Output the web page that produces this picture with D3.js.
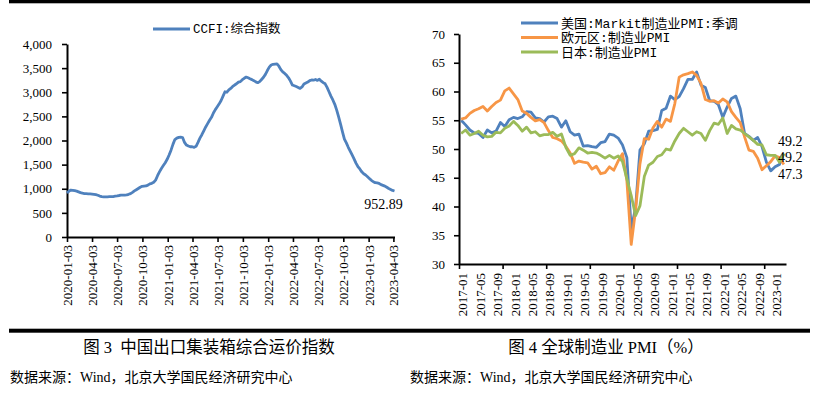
<!DOCTYPE html>
<html>
<head>
<meta charset="utf-8">
<script src="https://cdn.jsdelivr.net/npm/d3@7"></script>
<style>
body { margin: 0; background: #fff; }
svg { display: block; }
</style>
</head>
<body>
<svg id="page" width="817" height="395"></svg>
<script>
// ---- CCFI (weekly, first week 2020-01-03) ----
var ccfiStart = "2020-01-03";
var ccfiValues = [
  910, 950, 972, 968, 960, 950, 935, 920, 908, 900, 898, 895, 893,
  890, 885, 878, 866, 848, 836, 832, 833, 832, 835, 836, 838, 845,
  852, 860, 866, 866, 868, 872, 885, 900, 925, 955, 980, 1005, 1030,
  1050, 1055, 1058, 1075, 1100, 1113, 1135, 1180, 1270, 1350, 1420, 1480, 1540,
  1610, 1700, 1800, 1920, 2020, 2050, 2065, 2068, 2060, 1960, 1905, 1885, 1870,
  1870, 1858, 1880, 1960, 2050, 2120, 2200, 2280, 2350, 2420, 2480, 2570, 2640,
  2700, 2760, 2830, 2920, 3010, 3000, 3050, 3080, 3120, 3150, 3175, 3210, 3220,
  3260, 3290, 3315, 3300, 3280, 3262, 3240, 3215, 3198, 3220, 3265, 3310, 3370,
  3450, 3520, 3565, 3580, 3585, 3587, 3540, 3470, 3420, 3390, 3350, 3300, 3230,
  3150, 3135, 3120, 3100, 3080, 3110, 3170, 3190, 3210, 3240, 3255, 3250, 3265,
  3245, 3270, 3230, 3200, 3175, 3100, 3010, 2920, 2840, 2750, 2630, 2490, 2340,
  2180, 2030, 1950, 1860, 1780, 1700, 1620, 1530, 1460, 1410, 1350, 1310, 1285,
  1250, 1210, 1175, 1145, 1125, 1120, 1110, 1085, 1070, 1055, 1030, 1005, 985,
  965, 952.89
];
var ccfiTicks = ["2020-01-03","2020-04-03","2020-07-03","2020-10-03","2021-01-03","2021-04-03","2021-07-03",
                 "2021-10-03","2022-01-03","2022-04-03","2022-07-03","2022-10-03","2023-01-03","2023-04-03"];
var ccfiYTicks = [0, 500, 1000, 1500, 2000, 2500, 3000, 3500, 4000];
var ccfiName = "CCFI:综合指数";

// ---- PMI (monthly, 2017-01 .. 2023-03) ----
var pmiUS = [
  55.0,54.2,53.3,52.8,52.7,52.0,53.3,52.8,53.1,54.6,53.9,55.1,
  55.5,55.3,55.6,56.5,56.4,55.4,55.3,54.7,55.6,55.7,55.3,53.8,
  54.9,53.0,52.4,52.6,50.5,50.6,50.4,50.3,51.1,51.3,52.6,52.4,
  51.9,50.7,48.5,36.1,39.8,49.8,50.9,53.1,53.2,53.4,56.7,57.1,
  59.2,58.6,59.1,60.5,62.1,62.1,63.4,61.1,60.7,58.4,58.3,57.7,
  55.5,57.3,58.8,59.2,57.0,52.7,52.2,51.5,52.0,50.4,47.7,46.2,
  46.9,47.3,49.2
];
var pmiEU = [
  55.2,55.4,56.2,56.7,57.0,57.4,56.6,57.4,58.1,58.5,60.1,60.6,
  59.6,58.6,56.6,56.2,55.5,54.9,55.1,54.6,53.2,52.0,51.8,51.4,
  50.5,49.3,47.5,47.9,47.7,47.6,46.5,47.0,45.7,45.9,46.9,46.3,
  47.9,49.2,44.5,33.4,39.4,47.4,51.8,51.7,53.7,54.8,53.8,55.2,
  54.8,57.9,62.5,62.9,63.1,63.4,62.8,61.4,58.6,58.3,58.4,58.0,
  58.7,58.2,56.5,55.5,54.6,52.1,49.8,49.6,48.4,46.4,47.1,47.8,
  48.8,48.5,47.3
];
var pmiJP = [
  52.7,53.3,52.4,52.7,53.1,52.4,52.1,52.2,52.9,52.8,53.6,54.0,
  54.8,54.1,53.1,53.8,52.8,53.0,52.3,52.5,52.5,52.9,52.2,52.6,
  50.3,48.9,49.2,50.2,49.8,49.3,49.4,49.3,48.9,48.4,48.9,48.4,
  48.8,47.8,44.8,41.9,38.4,40.1,45.2,47.2,47.7,48.7,49.0,50.0,
  49.8,51.4,52.7,53.6,53.0,52.4,53.0,52.7,51.5,53.2,54.5,54.3,
  55.4,52.7,54.1,53.5,53.3,52.7,52.1,51.5,50.8,50.7,49.0,48.9,
  48.9,47.7,49.2
];
var pmiNames = ["美国:Markit制造业PMI:季调", "欧元区:制造业PMI", "日本:制造业PMI"];
var pmiColors = ["#4f81bd", "#f79646", "#9bbb59"];
var pmiLabels = ["2017-01","2017-05","2017-09","2018-01","2018-05","2018-09","2019-01","2019-05","2019-09",
                 "2020-01","2020-05","2020-09","2021-01","2021-05","2021-09","2022-01","2022-05","2022-09","2023-01"];
var pmiYTicks = [30, 35, 40, 45, 50, 55, 60, 65, 70];

var captions = ["图 3  中国出口集装箱综合运价指数", "图 4 全球制造业 PMI（%）"];
var source = "数据来源：Wind，北京大学国民经济研究中心";

var serif = '"Liberation Serif", "Noto Sans CJK SC", serif';
var mono = '"Liberation Mono", "Noto Sans CJK SC", monospace';

var svg = d3.select("#page");
var parse = d3.timeParse("%Y-%m-%d");

// frame bars
svg.append("rect").attr("x", 9).attr("y", 0).attr("width", 801).attr("height", 3.3).attr("fill", "#000");
svg.append("rect").attr("x", 9).attr("y", 328.7).attr("width", 801).attr("height", 4).attr("fill", "#000");

var styleAxis = function(g) {
    g.attr("font-family", serif).attr("font-size", 13);
    g.select(".domain").attr("stroke", "#000").attr("stroke-width", 2);
    g.selectAll(".tick line").attr("stroke", "#000").attr("stroke-width", 1.6);
    g.selectAll(".tick text").attr("fill", "#000");
};

// ================= left chart =================
var t0 = parse(ccfiStart);
var ccfi = ccfiValues.map(function(v, i) { return { date: d3.timeDay.offset(t0, 7 * i), value: v }; });

var xL = d3.scaleTime()
    .domain([t0, ccfi[ccfi.length - 1].date])
    .range([67, 394.5]);
var yL = d3.scaleLinear().domain([0, 4000]).range([237, 44]);

var gyL = svg.append("g").attr("transform", "translate(67,0)")
    .call(d3.axisLeft(yL).tickValues(ccfiYTicks).tickFormat(d3.format(",")).tickSize(5).tickSizeOuter(0).tickPadding(10));
styleAxis(gyL);

var gxL = svg.append("g").attr("transform", "translate(0,237)")
    .call(d3.axisBottom(xL).tickValues(ccfiTicks.map(parse)).tickFormat(d3.timeFormat("%Y-%m-%d")).tickSize(5).tickSizeOuter(0));
styleAxis(gxL);
gxL.selectAll(".tick text")
    .attr("y", 0).attr("x", -8).attr("dy", "0.35em")
    .attr("transform", "rotate(-90)")
    .style("text-anchor", "end");

svg.append("path")
    .datum(ccfi)
    .attr("fill", "none")
    .attr("stroke", pmiColors[0])
    .attr("stroke-width", 2.8)
    .attr("stroke-linejoin", "round")
    .attr("d", d3.line().x(function(d) { return xL(d.date); }).y(function(d) { return yL(d.value); }));

var lastC = ccfi[ccfi.length - 1];
svg.append("text")
    .attr("x", xL(lastC.date) - 11).attr("y", yL(lastC.value) + 13).attr("dy", "0.35em")
    .attr("text-anchor", "middle")
    .attr("font-family", serif).attr("font-size", 14)
    .text(d3.format(".2f")(lastC.value));

// legend
svg.append("line").attr("x1", 153).attr("x2", 190).attr("y1", 29).attr("y2", 29)
    .attr("stroke", pmiColors[0]).attr("stroke-width", 3.2);
svg.append("text").attr("x", 193).attr("y", 29).attr("dy", "0.35em")
    .attr("font-family", mono).attr("font-size", 12.5).text(ccfiName);

// ================= right chart =================
var pmiSeries = [pmiUS, pmiEU, pmiJP];
var nMonths = pmiUS.length;
var xR = d3.scaleLinear().domain([0, nMonths]).range([459, 786]);
var yR = d3.scaleLinear().domain([30, 70]).range([264, 34]);

var gyR = svg.append("g").attr("transform", "translate(459,0)")
    .call(d3.axisLeft(yR).tickValues(pmiYTicks).tickSize(5).tickSizeOuter(0).tickPadding(9));
styleAxis(gyR);

var gxR = svg.append("g").attr("transform", "translate(0,264)")
    .call(d3.axisBottom(xR).tickValues(d3.range(0, nMonths, 10)).tickFormat("").tickSize(5).tickSizeOuter(0));
styleAxis(gxR);

var labelIndex = function(s) {
    var p = s.split("-");
    return (+p[0] - 2017) * 12 + (+p[1] - 1);
};
svg.append("g").selectAll("text")
    .data(pmiLabels)
    .join("text")
    .attr("transform", function(d) { return "translate(" + (xR(labelIndex(d) + 0.5) + 1.5) + ",264) rotate(-90)"; })
    .attr("x", -9).attr("dy", "0.35em")
    .attr("text-anchor", "end")
    .attr("font-family", serif).attr("font-size", 13)
    .text(function(d) { return d; });

var lineR = d3.line()
    .x(function(d, i) { return xR(i + 0.5); })
    .y(function(d) { return yR(d); });

svg.append("g").selectAll("path")
    .data(pmiSeries)
    .join("path")
    .attr("fill", "none")
    .attr("stroke", function(d, i) { return pmiColors[i]; })
    .attr("stroke-width", 2.8)
    .attr("stroke-linejoin", "round")
    .attr("d", lineR);

// end labels (US above, EU below, JP right on)
var endOffsets = [-13, 10, 3];
svg.append("g").selectAll("text")
    .data(pmiSeries)
    .join("text")
    .attr("x", xR(nMonths) - 8)
    .attr("y", function(d, i) { return yR(d[d.length - 1]) + endOffsets[i]; })
    .attr("dy", "0.35em")
    .attr("font-family", serif).attr("font-size", 14)
    .text(function(d) { return d3.format(".1f")(d[d.length - 1]); });

// legend
var leg = svg.append("g").selectAll("g")
    .data(pmiNames)
    .join("g")
    .attr("transform", function(d, i) { return "translate(0," + (23 + i * 14.5) + ")"; });
leg.append("line").attr("x1", 521).attr("x2", 558)
    .attr("stroke", function(d, i) { return pmiColors[i]; }).attr("stroke-width", 3.2);
leg.append("text").attr("x", 561).attr("dy", "0.35em")
    .attr("font-family", mono).attr("font-size", 13)
    .text(function(d) { return d; });

// ================= captions =================
svg.selectAll("text.cap")
    .data(captions)
    .join("text")
    .attr("class", "cap")
    .attr("x", function(d, i) { return i === 0 ? 209 : 606; })
    .attr("y", 347).attr("dy", "0.35em")
    .attr("text-anchor", "middle")
    .attr("font-family", serif).attr("font-size", 16.5)
    .style("white-space", "pre")
    .text(function(d) { return d; });

svg.selectAll("text.src")
    .data([10, 410])
    .join("text")
    .attr("class", "src")
    .attr("x", function(d) { return d; })
    .attr("y", 377).attr("dy", "0.35em")
    .attr("font-family", serif).attr("font-size", 14)
    .text(source);
</script>
</body>
</html>
